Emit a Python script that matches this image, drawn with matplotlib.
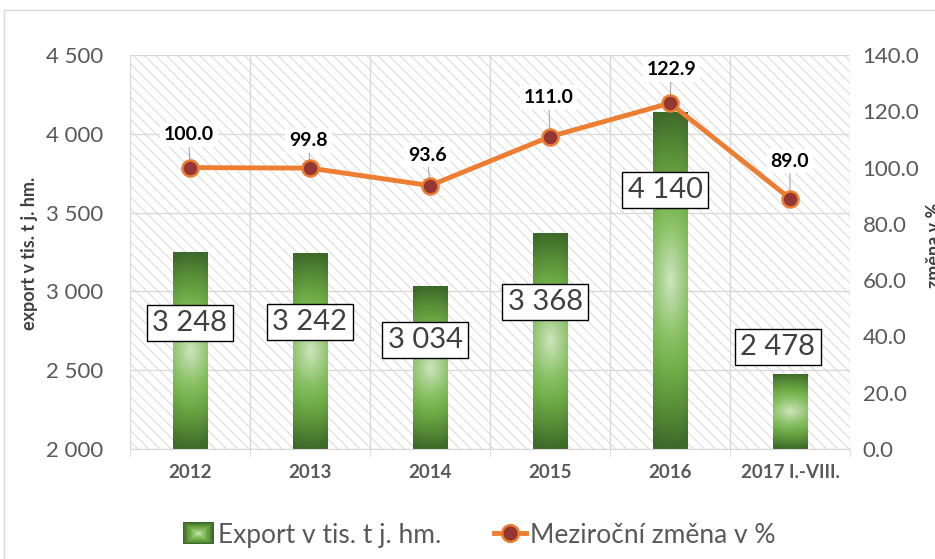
import numpy as np
import matplotlib
matplotlib.use('Agg')
import matplotlib.pyplot as plt
from matplotlib.colors import LinearSegmentedColormap
from matplotlib.patches import Rectangle, Patch
from matplotlib.lines import Line2D
from matplotlib.legend_handler import HandlerBase

# Data
categories = ['2012', '2013', '2014', '2015', '2016', '2017 I.-VIII.']
export = [3248, 3242, 3034, 3368, 4140, 2478]
zmena = [100.0, 99.8, 93.6, 111.0, 122.9, 89.0]
value_labels = ['3 248', '3 242', '3 034', '3 368', '4 140', '2 478']

# Manually placed label boxes (as in the source chart)
box_y = [2800, 2806, 2692, 2933, 3643, 2647]
box_dx = [0.0, 0.0, -0.04, -0.04, -0.04, -0.10]
pct_offsets = [(-1, 24), (-1, 20), (-2, 22), (-1, 28), (1, 24), (0, 27)]

plt.rcParams['font.family'] = ['Lato', 'DejaVu Sans']
plt.rcParams['hatch.linewidth'] = 0.8

W, H = 935, 559
fig = plt.figure(figsize=(W / 100, H / 100), dpi=100)
ax = fig.add_axes([130 / W, 1 - 449 / H, 720 / W, 394 / H])

# Hatched plot area
ax.set_facecolor('white')
ax.patch.set_hatch('\\\\\\')
ax.patch.set_edgecolor('#dddddd')
ax.patch.set_linewidth(0)

x = np.arange(len(categories))
bar_w = 0.29
ymin, ymax = 2000, 4500

green = LinearSegmentedColormap.from_list(
    'green', [(0.0, '#cde4bd'), (0.35, '#88c064'), (0.55, '#70ad47'),
              (0.8, '#558a36'), (1.0, '#3e6a29')])

yy, xx = np.mgrid[-1:1:200j, -1:1:60j]
grad = np.clip(np.sqrt(0.1 * xx ** 2 + yy ** 2), 0, 1)

bars = ax.bar(x, np.array(export) - ymin, bottom=ymin, width=bar_w,
              color='none', edgecolor='none', zorder=2)
for b in bars:
    x0, y0 = b.get_x(), b.get_y()
    im = ax.imshow(grad, cmap=green, vmin=0, vmax=1, aspect='auto',
                   extent=[x0, x0 + b.get_width(), y0, y0 + b.get_height()],
                   zorder=2, interpolation='bilinear')
    im.set_clip_path(b)

# Value label boxes
for i, lab in enumerate(value_labels):
    ax.text(x[i] + box_dx[i], box_y[i], lab, ha='center', va='center',
            fontsize=21, color='#404040', zorder=5,
            bbox=dict(boxstyle='square,pad=0.18', fc='white', ec='black', lw=1))

ax.set_xlim(-0.5, len(categories) - 0.5)
ax.set_ylim(ymin, ymax)
ax.set_yticks(np.arange(2000, 4501, 500))
ax.set_yticklabels([f'{v:,}'.replace(',', ' ') for v in range(2000, 4501, 500)])
ax.set_xticks(x)
ax.set_xticklabels(categories)
ax.set_xticks(np.arange(-0.5, len(categories), 1.0), minor=True)
ax.grid(axis='y', color='#d9d9d9', lw=1, zorder=1)
ax.grid(axis='x', which='minor', color='#d9d9d9', lw=1, zorder=1)
ax.set_axisbelow(True)
for s in ['top', 'right', 'left']:
    ax.spines[s].set_visible(False)
ax.spines['bottom'].set_color('#d9d9d9')
ax.tick_params(axis='y', length=0, pad=19, labelsize=16, labelcolor='#595959')
ax.tick_params(axis='x', which='major', length=0, pad=11)
ax.tick_params(axis='x', which='minor', length=6, color='#d9d9d9')
for t in ax.get_xticklabels():
    t.set_fontweight('bold')
    t.set_fontsize(13.5)
    t.set_color('#595959')

# Year-on-year change line
ax2 = ax.twinx()
ax2.plot(x, zmena, color='#ED7D31', lw=3.5, marker='o', markersize=11.5,
         markerfacecolor='#943634', markeredgecolor='#ED7D31', mew=1.8,
         zorder=4)
for i, v in enumerate(zmena):
    dx, dy = pct_offsets[i]
    ax2.annotate(f'{v:.1f}', (x[i], v), xytext=(dx, dy),
                 textcoords='offset points', ha='center', va='center',
                 fontsize=14, fontweight='bold', color='black',
                 bbox=dict(boxstyle='square,pad=0.2', fc='white', ec='none'),
                 arrowprops=dict(arrowstyle='-', color='#a6a6a6', lw=0.8,
                                 shrinkA=0, shrinkB=4))
ax2.set_ylim(0, 140)
ax2.set_yticks(np.arange(0, 141, 20))
ax2.set_yticklabels([f'{v:.1f}' for v in range(0, 141, 20)])
ax2.tick_params(axis='y', length=0, pad=9, labelsize=16, labelcolor='#595959')
for s in ax2.spines.values():
    s.set_visible(False)

# Axis titles
fig.text(30 / W, 1 - 253 / H, 'export v tis. t j. hm.', rotation=90,
         ha='center', va='center', fontsize=13, fontweight='bold',
         color='#404040')
fig.text(926 / W, 1 - 245 / H, 'změna v %', rotation=90, ha='left',
         va='center', fontsize=13, fontweight='bold', color='#404040')


# Legend with a small gradient square for the bars
class GradientHandler(HandlerBase):
    def create_artists(self, legend, orig_handle, xdescent, ydescent,
                       width, height, fontsize, trans):
        arts = []
        w0 = height * 1.4
        x_left = -xdescent + (width - w0) / 2
        for k in range(12):
            f = k / 12
            w, h = w0 * (1 - f), height * (1 - f)
            arts.append(Rectangle((x_left + (w0 - w) / 2,
                                   -ydescent + (height - h) / 2), w, h,
                                  facecolor=green(1 - f * 1.05),
                                  edgecolor='none', transform=trans))
        return arts


handles = [Patch(facecolor='#70ad47'),
           Line2D([0], [0], color='#ED7D31', lw=3.5, marker='o',
                  markersize=12, markerfacecolor='#943634',
                  markeredgecolor='#ED7D31', mew=1.8)]
fig.legend(handles, ['Export v tis. t j. hm.', 'Meziroční změna v %'],
           loc='center', bbox_to_anchor=(479 / W, 1 - 535 / H), ncol=2,
           frameon=False, fontsize=19, labelcolor='#595959',
           handlelength=1.2, handletextpad=0.15, columnspacing=2.0,
           handleheight=0.9, handler_map={Patch: GradientHandler()})

# Chart frame (partly outside the picture)
fig.patches.append(Rectangle((4 / W, -0.2), 1.2, 1.2 - 10 / H,
                             transform=fig.transFigure, fill=False,
                             ec='#d9d9d9', lw=1))

fig.savefig('out.png', dpi=100)
